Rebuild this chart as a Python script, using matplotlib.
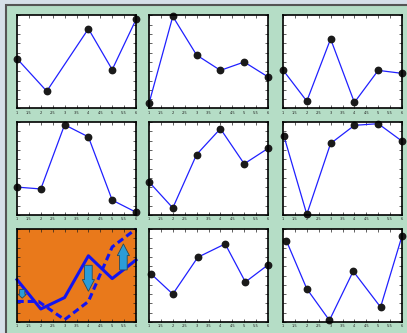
import numpy as np
import matplotlib.pyplot as plt
from matplotlib.patches import Rectangle

# x positions and y values of each small panel, row by row
x_a = [1, 2.25, 4, 5, 6]
y_a = [0.536, 0.186, 0.857, 0.418, 0.957]
x_b = [1, 2, 3, 4, 5, 6]
y_b = [0.055, 0.99, 0.575, 0.41, 0.50, 0.34]
x_c = [1, 2, 3, 4, 5, 6]
y_c = [0.414, 0.079, 0.748, 0.065, 0.41, 0.378]
x_d = [1, 2, 3, 4, 5, 6]
y_d = [0.30, 0.28, 0.97, 0.84, 0.16, 0.03]
x_e = [1, 2, 3, 4, 5, 6]
y_e = [0.356, 0.076, 0.65, 0.928, 0.55, 0.716]
x_f = [1.04, 2, 3, 4, 5, 6]
y_f = [0.848, 0.007, 0.769, 0.964, 0.982, 0.794]
x_h = [1.1, 2, 3.05, 4.2, 5.05, 6]
y_h = [0.514, 0.30, 0.696, 0.84, 0.43, 0.614]
x_i = [1.14, 2, 2.95, 3.95, 5.1, 6]
y_i = [0.875, 0.357, 0.018, 0.546, 0.16, 0.925]

# the orange panel: two lines and three arrows
x_g = [1, 2, 3, 4, 5, 6]
solid_g = [0.456, 0.14, 0.263, 0.712, 0.467, 0.667]
dash_x = [1, 1.9, 3, 4, 5, 6]
dash_g = [0.221, 0.221, 0.025, 0.221, 0.807, 1.0]
arrow_x = [1.22, 4.0, 5.47]
arrow_y0 = [0.35, 0.61, 0.56]
arrow_y1 = [0.256, 0.33, 0.84]
arrow_w = [0.22, 0.32, 0.32]

W, H = 407, 333
fig = plt.figure(figsize=(W / 100, H / 100), dpi=100)
fig.patch.set_facecolor('#d6e0e9')
fig.patches.append(Rectangle((6 / W, -0.1), 1.2, 1 - 5 / H + 0.1, transform=fig.transFigure,
                             facecolor='#b5ddc6', edgecolor='#555555', linewidth=1.5, zorder=-5))

lefts = [17, 149, 283]
tops = [15.5, 122, 229]
aw, ah = 119, 93


def make_axes(r, c):
    l = lefts[c]
    t = tops[r]
    ax = fig.add_axes([l / W, 1 - (t + ah) / H, aw / W, ah / H])
    ax.set_xlim(1, 6)
    ax.set_ylim(0, 1)
    ax.set_xticks(np.arange(1, 6.01, 0.5))
    ax.set_xticklabels(['1', '1.5', '2', '2.5', '3', '3.5', '4', '4.5', '5', '5.5', '6'])
    ax.set_yticks(np.arange(0, 1.01, 0.1))
    ax.tick_params(direction='in', length=2, width=0.5, top=True, right=True,
                   labelleft=False, labelsize=2.6, pad=1.5, colors='#222222')
    for s in ax.spines.values():
        s.set_linewidth(1.2)
    return ax


panels = [(x_a, y_a), (x_b, y_b), (x_c, y_c),
          (x_d, y_d), (x_e, y_e), (x_f, y_f),
          None, (x_h, y_h), (x_i, y_i)]

for k, p in enumerate(panels):
    ax = make_axes(k // 3, k % 3)
    if p is None:
        ax.set_facecolor('#e9791b')
        ax.plot(x_g, solid_g, color='#1414f0', lw=2.2, clip_on=False)
        ax.plot(dash_x, dash_g, color='#1414f0', lw=2.2, ls=(0, (2.2, 1.3)), clip_on=False)
        for ax_x, y0, y1, w in zip(arrow_x, arrow_y0, arrow_y1, arrow_w):
            d = y1 - y0
            hl = min(abs(d) * 0.45, 0.13)
            ax.arrow(ax_x, y0, 0, d, width=w, head_width=w * 1.6, head_length=hl,
                     length_includes_head=True, facecolor='#2b9cd8', edgecolor='#2a4a5a',
                     linewidth=0.6, zorder=5)
    else:
        ax.plot(p[0], p[1], color='#2020ff', lw=0.9, marker='o', ms=4.6,
                mfc='#1a1a1a', mec='#1a1a1a', clip_on=False)

fig.savefig('out.png', dpi=100, facecolor=fig.get_facecolor())
